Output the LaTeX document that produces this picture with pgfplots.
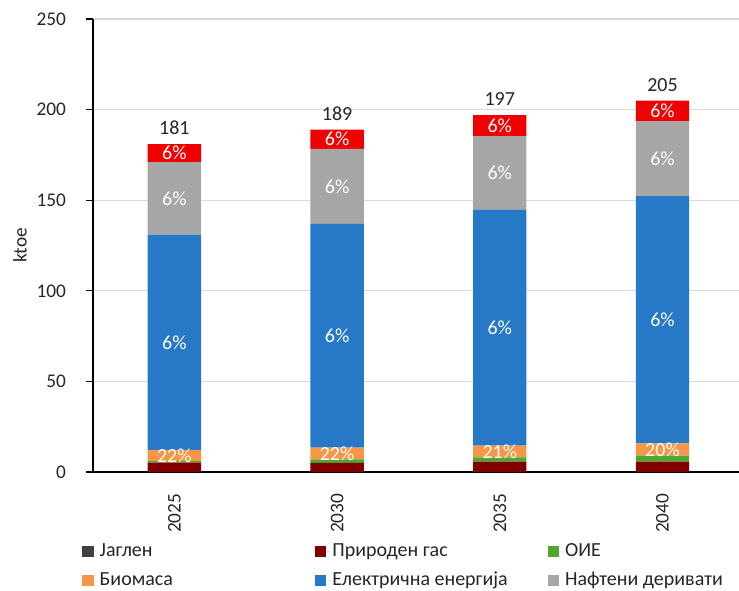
\documentclass[border=0pt]{standalone}
\usepackage{pgfplots}
\pgfplotsset{compat=1.18}
\usepackage{pgfplotstable}
\usepackage{fontspec}
\setmainfont{Carlito}
\definecolor{cCoal}{HTML}{404040}
\definecolor{cGas}{HTML}{800000}
\definecolor{cRes}{HTML}{4EA72E}
\definecolor{cBio}{HTML}{F79646}
\definecolor{cEl}{HTML}{2878C8}
\definecolor{cOil}{HTML}{A6A6A6}
\definecolor{cTop}{HTML}{F00000}
\definecolor{cGrid}{HTML}{D9D9D9}
\definecolor{cTxt}{HTML}{262626}

\pgfplotstableread{
x coal gas res bio el oil top
0 0 5.2 0.8 6.2 118.8 40.0 10.0
1 0 5.0 2.0 6.5 123.4 41.4 10.7
2 0 5.7 2.4 6.4 130.1 40.8 11.6
3 0 5.7 3.3 6.8 136.5 41.4 11.3
}\stackdata

\pgfplotstableread{
x y p
0 9.1 22
1 10.25 22
2 11.3 21
3 12.4 20
0 71.6 6
1 75.2 6
2 79.55 6
3 84.05 6
0 151 6
1 157.6 6
2 165 6
3 173 6
0 176 6
1 183.65 6
2 191.2 6
3 199.35 6
}\pctdata

\pgfplotstableread{
x y
0 181
1 189
2 197
3 205
}\totdata

\begin{document}
\fontsize{14.5}{17}\selectfont
\begin{tikzpicture}
\pgfplotsset{
  common/.style={
    scale only axis,
    width=484.5pt, height=339.75pt,
    xmin=-0.5, xmax=3.47,
    ymin=0, ymax=250,
    /pgf/number format/assume math mode=true,
  }
}
\begin{axis}[
  common,
  name=main,
  ybar stacked,
  bar width=0.328,
  axis lines*=left,
  axis line style={black, line width=0.9pt},
  xtick=data,
  xticklabels={2025,2030,2035,2040},
  xtick style={draw=none},
  ytick={0,50,...,250},
  ytick style={black, line width=0.8pt},
  tick align=outside,
  major tick length=5.25pt,
  ymajorgrids,
  grid style={cGrid, line width=0.8pt},
  tick label style={font=\fontsize{14.5}{17}\selectfont, text=cTxt},
  xticklabel style={yshift=-6pt, rotate=90, anchor=east},
  yticklabel style={xshift=-10pt},
  ylabel={ktoe},
  every axis y label/.style={at={(axis description cs:-0.113,0.5)}, rotate=90, anchor=center, font=\fontsize{14.5}{17}\selectfont, text=cTxt},
  legend style={
    at={(axis description cs:-0.0167,-0.1536)}, anchor=north west,
    draw=none, fill=none, inner sep=0pt, outer sep=0pt,
    nodes={inner sep=1.6pt},
    font=\fontsize{15}{18}\selectfont, text=cTxt,
    /tikz/every even column/.append style={column sep=3.85pt},
    row sep=6pt,
  },
  legend columns=3,
  legend cell align=left,
  legend image code/.code={\fill[#1] (0pt,-4pt) rectangle (8.5pt,4pt); \path (0pt,0pt) -- (11.5pt,0pt);},
]
\addplot[fill=cCoal, draw=none] table[x=x, y=coal] {\stackdata};
\addplot[fill=cGas, draw=none] table[x=x, y=gas] {\stackdata};
\addplot[fill=cRes, draw=none] table[x=x, y=res] {\stackdata};
\addplot[fill=cBio, draw=none] table[x=x, y=bio] {\stackdata};
\addplot[fill=cEl, draw=none] table[x=x, y=el] {\stackdata};
\addplot[fill=cOil, draw=none] table[x=x, y=oil] {\stackdata};
\addplot[fill=cTop, draw=none] table[x=x, y=top] {\stackdata};
\legend{\makebox[156pt][l]{Јаглен},\makebox[156pt][l]{Природен гас},\makebox[156pt][l]{ОИЕ},\makebox[156pt][l]{Биомаса},\makebox[156pt][l]{Електрична енергија},\makebox[156pt][l]{Нафтени деривати}}
\end{axis}
\begin{axis}[
  common,
  hide axis,
]
\addplot[only marks, mark=*, mark size=0pt, mark options={draw=none, fill=none},
  point meta=explicit,
  nodes near coords={\pgfmathprintnumber{\pgfplotspointmeta}\%},
  every node near coord/.style={anchor=center, text=white, font=\fontsize{15}{18}\selectfont}]
  table[x=x, y=y, meta=p] {\pctdata};
\addplot[only marks, mark=*, mark size=0pt, mark options={draw=none, fill=none},
  point meta=explicit,
  nodes near coords={\pgfmathprintnumber{\pgfplotspointmeta}},
  every node near coord/.style={anchor=south, yshift=2pt, text=cTxt, font=\fontsize{15}{18}\selectfont}]
  table[x=x, y=y, meta=y] {\totdata};
\end{axis}
\pgfresetboundingbox
\path[use as bounding box] ([shift={(-69.75pt,-88.5pt)}]main.south west) rectangle ([shift={(0pt,14.25pt)}]main.north east);
\end{tikzpicture}
\end{document}
